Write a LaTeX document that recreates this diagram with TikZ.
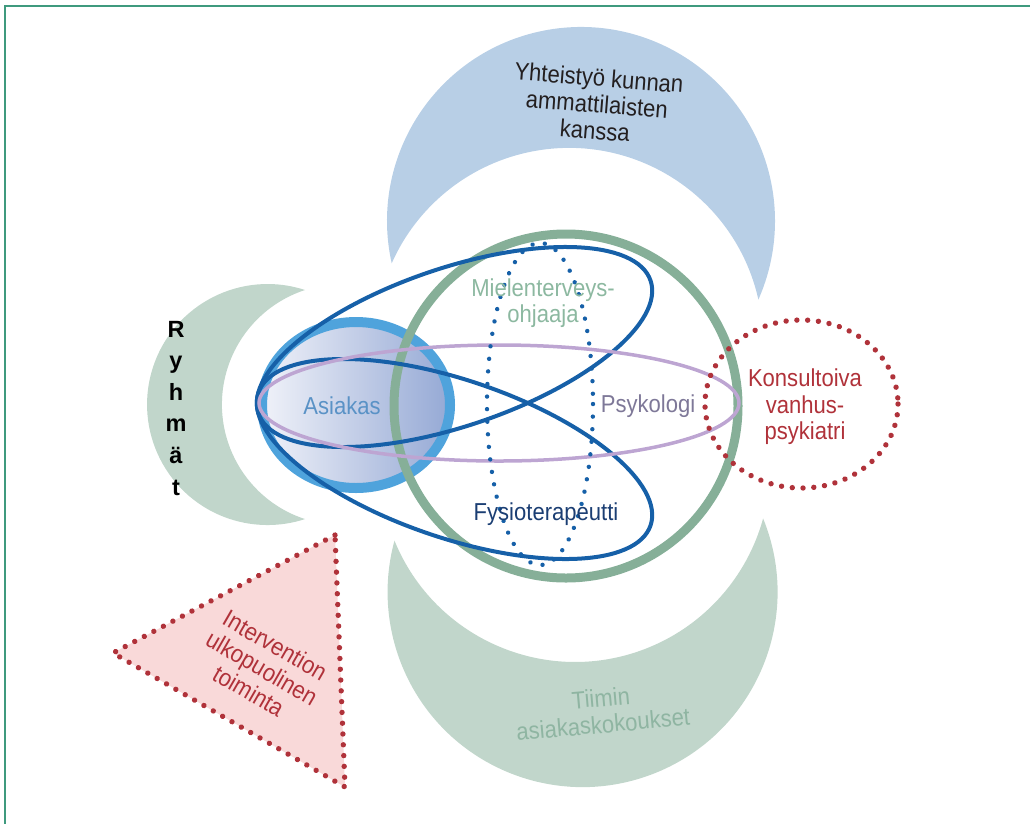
\documentclass[tikz,border=0pt]{standalone}
\usepackage{fontspec}
\usetikzlibrary{decorations.markings}
\setmainfont{Liberation Sans}[FakeStretch=0.9]
\newfontfamily\ryfont{Liberation Sans}
\definecolor{topblue}{HTML}{B8CFE6}
\definecolor{sage}{HTML}{C1D6CB}
\definecolor{ringgreen}{HTML}{86AF98}
\definecolor{skyring}{HTML}{4FA3DC}
\definecolor{navy}{HTML}{1660A8}
\definecolor{lilac}{HTML}{BDA5D2}
\definecolor{dotred}{HTML}{B0323A}
\definecolor{pinkfill}{HTML}{F9D9D9}
\definecolor{framegreen}{HTML}{3F9A7E}
\definecolor{asfillL}{HTML}{F0F2F9}
\definecolor{asfillR}{HTML}{95A9D5}
\definecolor{mhgreen}{HTML}{8CB8A0}
\definecolor{fysio}{HTML}{1B3E73}
\definecolor{psyk}{HTML}{7E7898}
\definecolor{asiak}{HTML}{5A92C6}
\definecolor{tiimi}{HTML}{8FB5A2}
\definecolor{textdark}{HTML}{231F20}
\tikzset{
  lbl/.style={inner sep=0pt, align=center, font=\fontsize{24.5}{26.5}\selectfont},
  reddots/.style={decoration={markings, mark=between positions 0 and 0.999 step 10.8pt with {\fill[dotred] (0,0) circle[radius=2.7pt];}}, decorate},
  bluedots/.style={decoration={markings, mark=between positions 0 and 0.999 step 12.6pt with {\fill[navy] (0,0) circle[radius=2.2pt];}}, decorate},
  ryletter/.style={inner sep=0pt, anchor=base, font=\ryfont\bfseries\fontsize{23.5}{23.5}\selectfont, text=black}
}
\begin{document}
\begin{tikzpicture}[x=1pt,y=-1pt]
\useasboundingbox (0,0) rectangle (1030,823);
% frame
\draw[framegreen, line width=2pt] (5,830) -- (5,5.5) -- (1035,5.5);
% top crescent
\fill[topblue] (391.7,263.3) arc[start angle=167.4, end angle=383.9, radius=194]
  arc[start angle=-12.6, end angle=-156.1, radius=194] -- cycle;
% left crescent
\fill[sage] (305,290) arc[start angle=-71.9, end angle=-288.1, radius=120.5]
  arc[start angle=108.1, end angle=251.9, radius=120.5] -- cycle;
% bottom crescent
\fill[sage] (763.1,518.4) arc[start angle=-22.2, end angle=195.3, radius=195]
  arc[start angle=157.8, end angle=15.3, radius=195] -- cycle;
% triangle
\fill[pinkfill] (335,535) -- (113,653) -- (345,787) -- cycle;
\path[reddots] (335,535) -- (113,653) -- (345,787) -- cycle;
% Asiakas circle
\shade[left color=asfillL, right color=asfillR] (356,405) ellipse[x radius=94, y radius=83];
\draw[skyring, line width=10pt] (356,405) ellipse[x radius=94, y radius=83];
% big green ring
\draw[ringgreen, line width=9pt] (566,406) circle[radius=172];
% dark blue loops
\draw[navy, line width=4pt, rotate around={18.7:(454.5,347)}] (454.5,347) ellipse[x radius=207, y radius=79];
\draw[navy, line width=4pt, rotate around={-18.7:(454.5,459)}] (454.5,459) ellipse[x radius=207, y radius=79];
% lilac ellipse
\draw[lilac, line width=3.5pt] (499,403) ellipse[x radius=240, y radius=58];
% blue dotted ellipse
\path[bluedots] (540,404) ellipse[x radius=53, y radius=161];
% red dotted circle
\path[reddots] (801.5,404) ellipse[x radius=96.5, y radius=84];
% texts
\node[lbl, text=textdark, rotate=-4.5] (yht) at (597,104) {Yhteistyö kunnan\\ammattilaisten\\kanssa};
\node[lbl, text=mhgreen] (mh) at (543,303) {Mielenterveys-\\ohjaaja};
\node[lbl, text=asiak] (asiakas) at (342,406) {Asiakas};
\node[lbl, text=psyk] (psyk) at (648,406) {Psykologi};
\node[lbl, text=fysio] (fysio) at (546,514) {Fysioterapeutti};
\node[lbl, text=dotred] (kons) at (805,407) {Konsultoiva\\vanhus-\\psykiatri};
\node[lbl, text=tiimi, rotate=5] (tiimi) at (602,711) {Tiimin\\asiakaskokoukset};
\node[lbl, text=dotred, rotate=-30] (interv) at (262,668) {Intervention\\ulkopuolinen\\toiminta};
\node[ryletter] (r1) at (176,337) {R};
\node[ryletter] (r2) at (176,368.6) {y};
\node[ryletter] (r3) at (176,400.2) {h};
\node[ryletter] (r4) at (176,431.8) {m};
\node[ryletter] (r5) at (176,463.4) {ä};
\node[ryletter] (r6) at (176,495) {t};
\end{tikzpicture}
\end{document}
